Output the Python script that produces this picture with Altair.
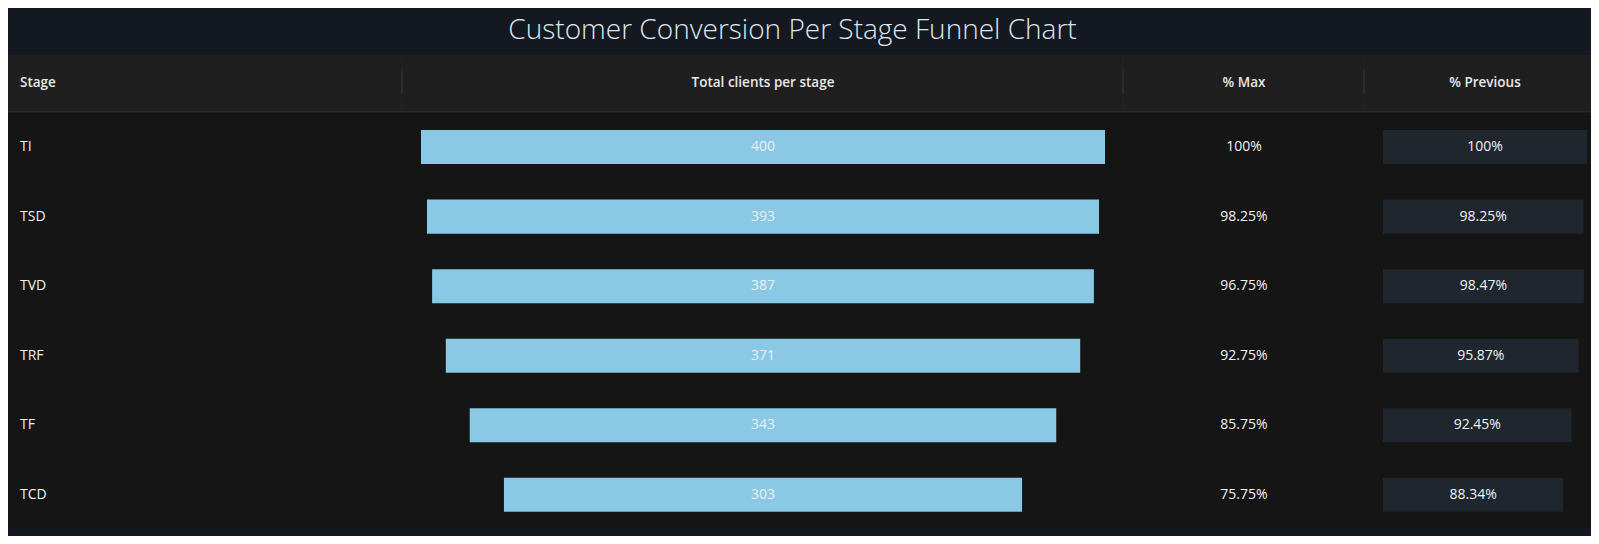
import altair as alt
import pandas as pd

# ---- data ----
stages = ["TI", "TSD", "TVD", "TRF", "TF", "TCD"]
clients = [400, 393, 387, 371, 343, 303]
pct_max = [100, 98.25, 96.75, 92.75, 85.75, 75.75]
pct_prev = [100, 98.25, 98.47, 95.87, 92.45, 88.34]
headers = ["Stage", "Total clients per stage", "% Max", "% Previous"]
title_text = "Customer Conversion Per Stage Funnel Chart"

df = pd.DataFrame({"stage": stages, "clients": clients, "pmax": pct_max, "pprev": pct_prev})
df["pmax_lbl"] = [f"{v:g}%" for v in pct_max]
df["pprev_lbl"] = [f"{v:g}%" for v in pct_prev]
one = pd.DataFrame({"k": [0]})

# ---- layout / style ----
W, H = 1583, 528
FONT = "Open Sans"
BG = "#131821"
HEAD_BG = "#1f1f1f"
BODY_BG = "#151515"
BAR = "#89c9e6"
BOX = "#1f262e"
HEAD_TOP, HEAD_BOT, BODY_BOT = 46.7, 103, 520

y_enc = alt.Y("stage:N", sort=stages, axis=None,
              scale=alt.Scale(domain=stages, range=[104.3, 521.6],
                              paddingInner=0.51, paddingOuter=0.255))
funnel_scale = alt.Scale(domain=[-200, 200], range=[413, 1097])
box_scale = alt.Scale(domain=[0, 100], range=[1375, 1579])

layers = []

# table backgrounds
layers.append(alt.Chart(one).mark_rect(color=BODY_BG).encode(
    x=alt.value(0), x2=alt.value(W), y=alt.value(HEAD_TOP), y2=alt.value(BODY_BOT)))
layers.append(alt.Chart(one).mark_rect(color=HEAD_BG).encode(
    x=alt.value(0), x2=alt.value(W), y=alt.value(HEAD_TOP), y2=alt.value(HEAD_BOT)))
layers.append(alt.Chart(one).mark_rect(color="#2a2a2a").encode(
    x=alt.value(0), x2=alt.value(W), y=alt.value(HEAD_BOT), y2=alt.value(HEAD_BOT + 1.5)))

# header separators
for sx in [394, 1115, 1356]:
    layers.append(alt.Chart(one).mark_rule(color="#242424", strokeWidth=1).encode(
        x=alt.value(sx), y=alt.value(HEAD_TOP), y2=alt.value(HEAD_BOT)))
    layers.append(alt.Chart(one).mark_rule(color="#2f2f2f", strokeWidth=1.5).encode(
        x=alt.value(sx), y=alt.value(62.7), y2=alt.value(86)))

# title
layers.append(alt.Chart(one).mark_text(
    text=title_text, font=FONT, fontSize=28, fontWeight=300, color="#dfe6ec",
    align="center", baseline="alphabetic").encode(x=alt.value(784.5), y=alt.value(31)))

# header texts
head_style = dict(font=FONT, fontSize=13.5, fontWeight=600, color="#e8e8e8", baseline="middle")
layers.append(alt.Chart(one).mark_text(text=headers[0], align="left", **head_style).encode(
    x=alt.value(12), y=alt.value(75)))
for txt, cx in zip(headers[1:], [755, 1236, 1477]):
    layers.append(alt.Chart(one).mark_text(text=txt, align="center", **head_style).encode(
        x=alt.value(cx), y=alt.value(75)))

body_style = dict(font=FONT, fontSize=14, baseline="middle")

# stage labels
layers.append(alt.Chart(df).mark_text(align="left", color="#f2f2f2", **body_style).encode(
    x=alt.value(12), y=y_enc, text="stage:N"))

# funnel bars
layers.append(alt.Chart(df).transform_calculate(
    lo="-datum.clients/2", hi="datum.clients/2").mark_bar(color=BAR).encode(
    x=alt.X("lo:Q", scale=funnel_scale, axis=None), x2="hi:Q", y=y_enc))
layers.append(alt.Chart(df).transform_calculate(mid="0").mark_text(
    align="center", color="#e8eff3", **body_style).encode(
    x=alt.X("mid:Q", scale=funnel_scale, axis=None), y=y_enc, text="clients:Q"))

# % max
layers.append(alt.Chart(df).mark_text(align="center", color="#f2f2f2", **body_style).encode(
    x=alt.value(1236), y=y_enc, text="pmax_lbl:N"))

# % previous boxes
layers.append(alt.Chart(df).mark_bar(color=BOX).encode(
    x=alt.X("pprev:Q", scale=box_scale, axis=None), y=y_enc))
layers.append(alt.Chart(df).transform_calculate(half="datum.pprev/2").mark_text(
    align="center", color="#f2f2f2", **body_style).encode(
    x=alt.X("half:Q", scale=box_scale, axis=None), y=y_enc, text="pprev_lbl:N"))

chart = alt.layer(*layers).resolve_scale(x="independent").properties(
    width=W, height=H, padding=0, background=BG,
    autosize=alt.AutoSizeParams(type="none")
).configure_view(stroke=None)

chart.save("out.html", embed_options={"renderer": "svg", "actions": False})
